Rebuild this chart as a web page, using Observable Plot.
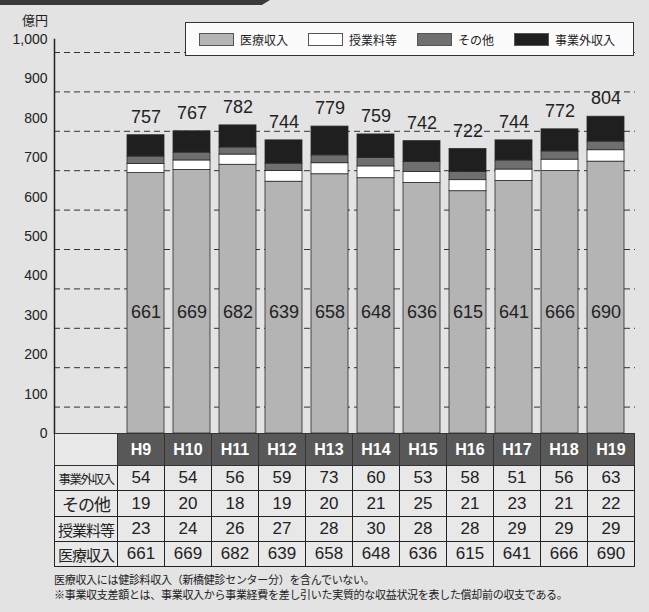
<!DOCTYPE html>
<html><head><meta charset="utf-8">
<script src="https://cdn.jsdelivr.net/npm/d3@7"></script>
<script src="https://cdn.jsdelivr.net/npm/@observablehq/plot@0.6"></script>
<style>
body{margin:0;background:#e3e3e3;}
#wrap{position:relative;width:649px;height:612px;background:#e3e3e3;overflow:hidden;font-family:"Liberation Sans",Arial,"Noto Sans CJK JP",sans-serif;color:#222;}
#band{position:absolute;left:0;top:0;width:270px;height:5px;background:#3a3a3a;clip-path:polygon(0 0,100% 0,97% 100%,0 100%);}
#unit{position:absolute;left:22px;top:10px;font-size:13px;font-family:"Noto Sans CJK JP",sans-serif;}
#chart{position:absolute;left:0;top:0;}
#legend{position:absolute;left:185px;top:22px;width:447px;height:32px;background:#fbfbfb;border:1px solid #333;display:flex;align-items:center;font-family:"Noto Sans CJK JP",sans-serif;font-size:12px;}
#legend .item{display:flex;align-items:center;margin-left:13px;margin-right:7px;}
#legend .sw{width:35px;height:13px;border:1px solid #555;margin-right:6px;box-sizing:border-box;}
#tbl{position:absolute;left:54px;top:433px;border-collapse:collapse;table-layout:fixed;width:581px;}
#tbl td{border:1.5px solid #222;text-align:center;padding:0;font-size:17px;background:#e8e8e8;}
#tbl tr.hd td{height:31px;background:#585858;color:#fff;font-weight:bold;font-size:16px;border-color:#333;}
#tbl tr.hd td.blank{background:#e8e8e8;}
#tbl td.lab{font-family:"Noto Sans CJK JP",sans-serif;font-size:15px;letter-spacing:-1px;}
#tbl tr.r td{height:24px;}
#notes{position:absolute;left:54px;top:572px;font-family:"Noto Sans CJK JP",sans-serif;font-size:11px;line-height:15px;letter-spacing:-0.3px;}
</style></head><body>
<div id="wrap">
<div id="band"></div>
<div id="chart"></div>
<div id="unit">億円</div>
<div id="legend"></div>
<table id="tbl"></table>
<div id="notes"></div>
</div>
<script>
const years = ["H9","H10","H11","H12","H13","H14","H15","H16","H17","H18","H19"];
const iryo = [661,669,682,639,658,648,636,615,641,666,690];
const jugyo = [23,24,26,27,28,30,28,28,29,29,29];
const sonota = [19,20,18,19,20,21,25,21,23,21,22];
const jigyogai = [54,54,56,59,73,60,53,58,51,56,63];
const seriesNames = ["医療収入","授業料等","その他","事業外収入"];
const seriesColors = ["#b4b4b4","#ffffff","#6f6f6f","#1f1f1f"];
const yTicks = [0,100,200,300,400,500,600,700,800,900,1000];
const tableRows = ["事業外収入","その他","授業料等","医療収入"];
const notes = [
  "医療収入には健診料収入（新橋健診センター分）を含んでいない。",
  "※事業収支差額とは、事業収入から事業経費を差し引いた実質的な収益状況を表した償却前の収支である。"
];

const seriesValues = {"医療収入": iryo, "授業料等": jugyo, "その他": sonota, "事業外収入": jigyogai};
const rows = seriesNames.flatMap(s => years.map((y, i) => ({year: y, series: s, value: seriesValues[s][i]})));
const totals = years.map((y, i) => ({year: y, total: iryo[i] + jugyo[i] + sonota[i] + jigyogai[i]}));
const iryoRows = years.map((y, i) => ({year: y, value: iryo[i]}));
const innerY = d3.min(iryo) / 2;

const font = "Liberation Sans, Arial, sans-serif";
const plot = Plot.plot({
  width: 649, height: 440,
  marginLeft: 54, marginRight: 14, marginTop: 39, marginBottom: 7,
  style: {background: "transparent", fontFamily: font, fontSize: "13px", color: "#222"},
  x: {domain: years, range: [117, 635], padding: 0.19, axis: null},
  y: {domain: [0, 1000], axis: null},
  color: {domain: seriesNames, range: seriesColors},
  marks: [
    Plot.ruleY(yTicks.filter(d => d > 0), {dy: 13, stroke: "#333", strokeWidth: 1, strokeDasharray: "6,4"}),
    Plot.barY(rows, {x: "year", y: "value", fill: "series", order: seriesNames, stroke: "#2a2a2a", strokeWidth: 0.8}),
    Plot.text(totals, {x: "year", y: "total", text: d => String(d.total), dy: -18, fontSize: 18, fill: "#222"}),
    Plot.text(iryoRows, {x: "year", y: () => innerY, text: d => String(d.value), fontSize: 18, fill: "#222"}),
    Plot.axisY({ticks: yTicks, tickSize: 0, tickPadding: 7, fontSize: 14, tickFormat: d3.format(","), label: null, fill: "#222"}),
    Plot.frame({anchor: "left", stroke: "#222", strokeWidth: 1.5})
  ]
});
document.getElementById("chart").appendChild(plot);

// legend
const lg = document.getElementById("legend");
seriesNames.forEach((s, i) => {
  const it = document.createElement("div");
  it.className = "item";
  it.innerHTML = `<span class="sw" style="background:${seriesColors[i]}"></span><span>${s}</span>`;
  lg.appendChild(it);
});

// table
const tbl = document.getElementById("tbl");
const cg = document.createElement("colgroup");
cg.innerHTML = `<col style="width:63px">` + years.map(() => `<col>`).join("");
tbl.appendChild(cg);
const hd = document.createElement("tr");
hd.className = "hd";
hd.innerHTML = `<td class="blank"></td>` + years.map(y => `<td>${y}</td>`).join("");
tbl.appendChild(hd);
tableRows.forEach(name => {
  const tr = document.createElement("tr");
  tr.className = "r";
  const fs = name.length >= 5 ? "font-size:12.5px;letter-spacing:-1.5px" : (name === "その他" ? "font-size:17px" : "font-size:15px");
  tr.innerHTML = `<td class="lab" style="${fs}">${name}</td>` + seriesValues[name].map(v => `<td>${v}</td>`).join("");
  tbl.appendChild(tr);
});

document.getElementById("notes").innerHTML = notes.map(n => `<div>${n}</div>`).join("");
</script>
</body></html>
